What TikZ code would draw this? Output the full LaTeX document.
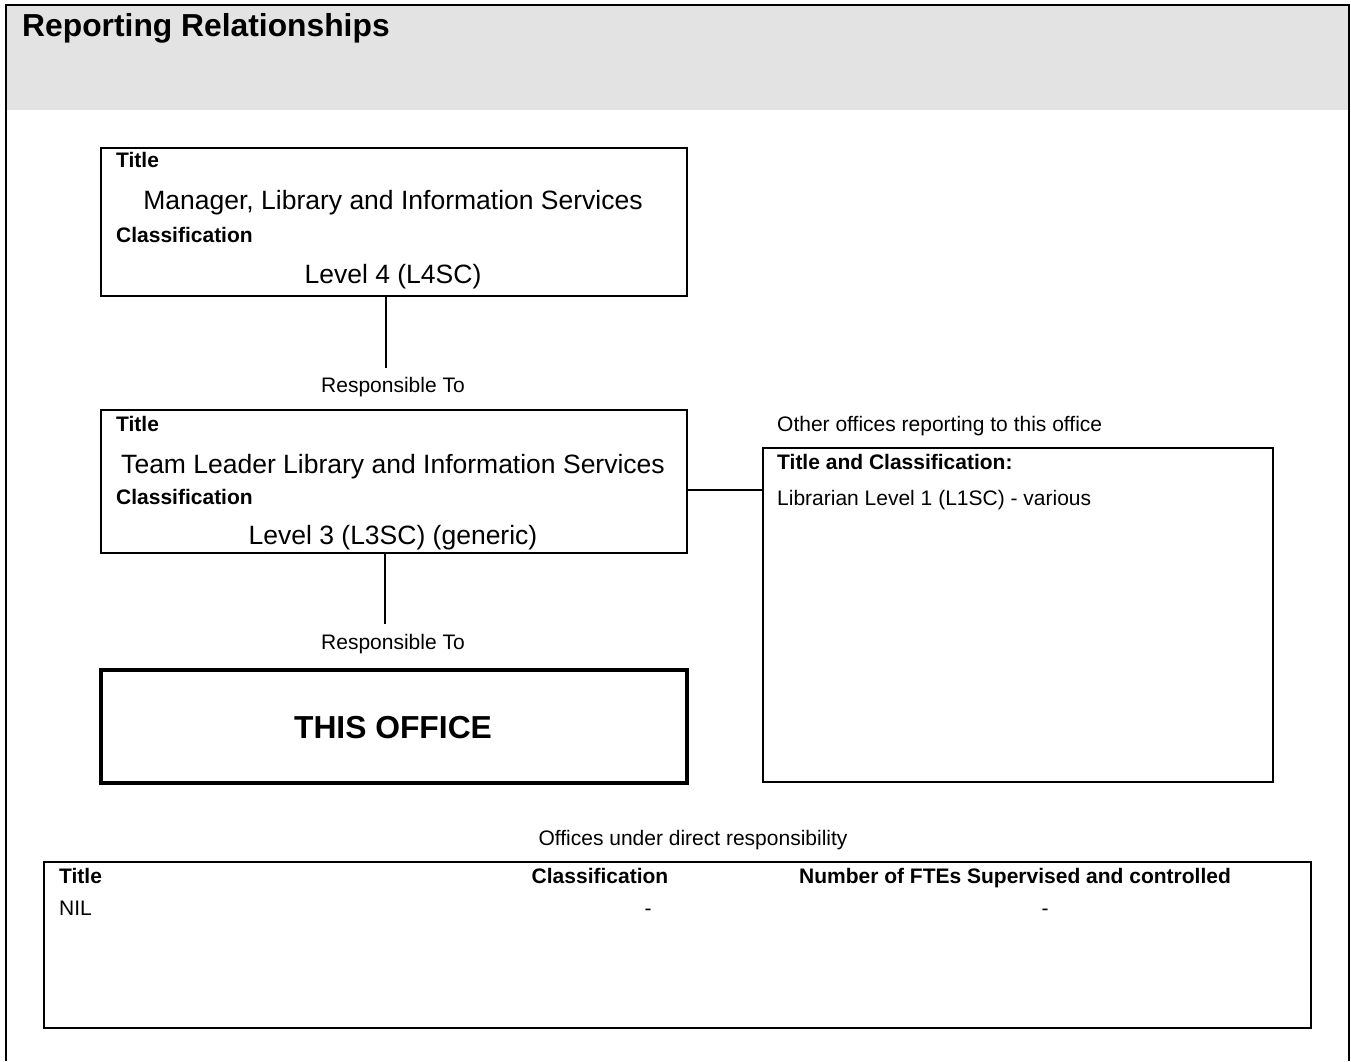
\documentclass[tikz,border=0pt]{standalone}
\usepackage{fontspec}
\setmainfont{Liberation Sans}
\begin{document}
\begin{tikzpicture}[x=1pt,y=-1pt,
  box/.style={draw, line width=2pt, inner sep=0pt, minimum width=586pt},
  officebox/.style={draw, line width=4pt, inner sep=0pt, minimum width=586pt, minimum height=113pt},
  lbl/.style={inner sep=0pt, text height=15pt, text depth=0pt, anchor=west, font=\fontsize{21}{25}\selectfont\bfseries},
  small/.style={inner sep=0pt, text height=15pt, text depth=0pt, font=\fontsize{21}{25}\selectfont},
  big/.style={inner sep=0pt, text height=19pt, text depth=0pt, font=\fontsize{26.5}{31}\selectfont},
  huge/.style={inner sep=0pt, text height=22.8pt, text depth=0pt, font=\fontsize{31.8}{37}\selectfont\bfseries},
  conn/.style={line width=1.5pt}]
\useasboundingbox (0,0) rectangle (1351,1061);
% header
\fill[gray!22] (6,5) rectangle (1349,110);
\draw[line width=2pt] (6,1061) -- (6,5) -- (1349,5) -- (1349,1061);
\node[huge, anchor=west] (hdr) at (22,25) {Reporting Relationships};

% manager box
\node[box, minimum height=148pt] (mgr) at (394,222) {};
\node[lbl] (mgrt) at (116,160) {Title};
\node[big] (mgrname) at (393,200) {Manager, Library and Information Services};
\node[lbl] (mgrc) at (116,235) {Classification};
\node[big] (mgrlvl) at (393,274) {Level 4 (L4SC)};

\coordinate (c1) at (386,368);
\draw[conn] (mgr.south -| c1) -- (c1);
\node[small] (resp1) at (393,385) {Responsible To};

% team leader box
\node[box, minimum height=143pt] (tl) at (394,481.5) {};
\node[lbl] (tlt) at (116,424) {Title};
\node[big] (tlname) at (393,464) {Team Leader Library and Information Services};
\node[lbl] (tlc) at (116,497) {Classification};
\node[big] (tllvl) at (393,535) {Level 3 (L3SC) (generic)};

\coordinate (c2) at (385,624);
\draw[conn] (tl.south -| c2) -- (c2);
\node[small] (resp2) at (393,642) {Responsible To};

% this office
\node[officebox] (office) at (394,726.5) {};
\node[huge] (officetxt) at (393,727) {THIS OFFICE};

% other offices
\node[small, anchor=west] (othercap) at (777,424) {Other offices reporting to this office};
\node[draw, line width=2pt, inner sep=0pt, minimum width=510pt, minimum height=334pt] (other) at (1018,615) {};
\node[lbl] (othert) at (777,462) {Title and Classification:};
\node[small, anchor=west] (otherv) at (777,498) {Librarian Level 1 (L1SC) - various};
\coordinate (c3) at (687,490);
\draw[conn] (c3) -- (c3 -| other.west);

% offices under direct responsibility
\node[small] (undercap) at (693,838) {Offices under direct responsibility};
\node[draw, line width=2pt, inner sep=0pt, minimum width=1267pt, minimum height=166pt] (tbl) at (677.5,945) {};
\node[lbl] (th1) at (59,876) {Title};
\node[lbl, anchor=center] (th2) at (600,876) {Classification};
\node[lbl, anchor=center] (th3) at (1015,876) {Number of FTEs Supervised and controlled};
\node[small, anchor=west] (r1) at (59,908) {NIL};
\node[small] (r2) at (648,908) {-};
\node[small] (r3) at (1045,908) {-};
\end{tikzpicture}
\end{document}
